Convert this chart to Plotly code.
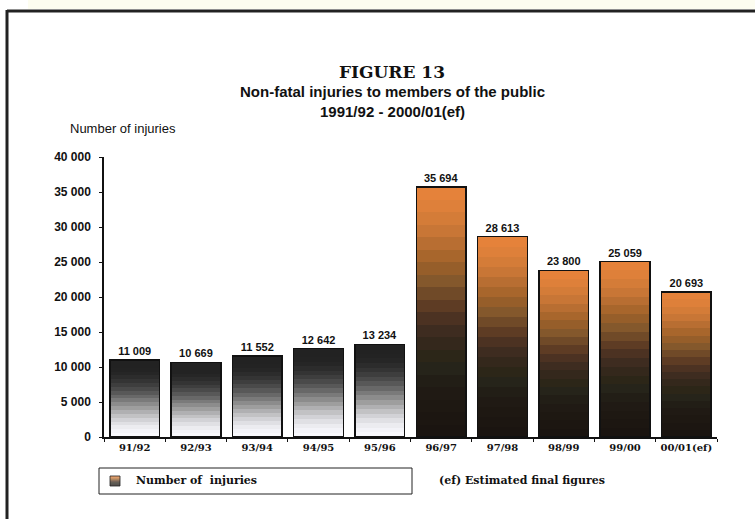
import plotly.graph_objects as go

# Financial years and non-fatal injury counts to members of the public
years = ["91/92", "92/93", "93/94", "94/95", "95/96",
         "96/97", "97/98", "98/99", "99/00", "00/01(ef)"]
injuries = [11009, 10669, 11552, 12642, 13234,
            35694, 28613, 23800, 25059, 20693]
y_ticks = [0, 5000, 10000, 15000, 20000, 25000, 30000, 35000, 40000]

# Stepped colour ramps, listed from the bottom of a bar to its top
grey_ramp = ["#f8f8fc", "#f3f3f8", "#ececf0", "#e0e0e4", "#d2d2d6", "#c2c2c4",
             "#b0b0b2", "#9e9e9e", "#8c8c8c", "#7a7a7a", "#686868", "#585858",
             "#4a4a4a", "#3e3e3e", "#343434", "#2c2c2c", "#262626", "#232323",
             "#222222", "#222222"]
orange_ramp = ["#1a1410", "#1c1611", "#1e1812", "#201a14", "#221e16", "#26241a",
               "#2c2618", "#34281c", "#3e2c20", "#4c3222", "#5e3c24", "#704a28",
               "#84582c", "#965e2a", "#a8662c", "#b86e32", "#c87636", "#d47c38",
               "#de803a", "#e5823a"]
n_steps = len(grey_ramp)
old_series = 5  # first five years drawn in grey

fig = go.Figure()

# Gradient fill: each bar is a stack of equal slices of its own value
for i in range(n_steps):
    colors = [grey_ramp[i] if k < old_series else orange_ramp[i]
              for k in range(len(years))]
    fig.add_trace(go.Bar(
        x=years, y=[v / n_steps for v in injuries],
        marker=dict(color=colors, line=dict(width=0)),
        showlegend=False, hoverinfo="skip",
    ))

# Outline and value labels, on an overlaid category axis
fig.add_trace(go.Bar(
    x=years, y=injuries, xaxis="x2",
    marker=dict(color="rgba(0,0,0,0)", line=dict(color="#111111", width=1.5)),
    texttemplate="%{y:,d}", textposition="outside",
    textfont=dict(family="Liberation Sans", size=11, color="#111111", weight="bold"),
    cliponaxis=False, showlegend=False, name="Number of injuries",
))

W, H = 755, 519
L, R, T, B = 104, 38, 157, 82
pw, ph = W - L - R, H - T - B


def px(x):
    return (x - L) / pw


def py(y):
    return (H - B - y) / ph


shapes = [
    # pale strip above the frame
    dict(type="rect", xref="paper", yref="paper", x0=px(28), x1=px(756),
         y0=py(0), y1=py(9), fillcolor="#fdfdf0", line=dict(width=0), layer="below"),
    # frame lines
    dict(type="line", xref="paper", yref="paper", x0=px(7), x1=px(756),
         y0=py(11), y1=py(11), line=dict(color="#222222", width=3)),
    dict(type="line", xref="paper", yref="paper", x0=px(7), x1=px(7),
         y0=py(10), y1=py(520), line=dict(color="#222222", width=3)),
    # legend box
    dict(type="rect", xref="paper", yref="paper", x0=px(99), x1=px(412),
         y0=py(468), y1=py(494), line=dict(color="#222222", width=1),
         fillcolor="white"),
]
# legend key swatch with the orange ramp
sw_top, sw_bot = 476, 486
for i in range(n_steps):
    y0 = sw_bot - (sw_bot - sw_top) * i / n_steps
    y1 = sw_bot - (sw_bot - sw_top) * (i + 1) / n_steps
    shapes.append(dict(type="rect", xref="paper", yref="paper",
                       x0=px(110), x1=px(120), y0=py(y0), y1=py(y1),
                       fillcolor=orange_ramp[i], line=dict(width=0)))
shapes.append(dict(type="rect", xref="paper", yref="paper",
                   x0=px(110), x1=px(120), y0=py(sw_bot), y1=py(sw_top),
                   line=dict(color="#222222", width=0.8)))

serif = "DejaVu Serif"
sans = "Liberation Sans"


def label(text, x, y, family, size, anchor="center"):
    return dict(text=text, x=px(x), y=py(y), xref="paper", yref="paper",
                xanchor=anchor, yanchor="middle", showarrow=False,
                font=dict(family=family, size=size, color="#111111"))


annotations = [
    label("<b>FIGURE 13</b>", 392, 72, serif, 17),
    label("<b>Non-fatal injuries to members of the public</b>", 392, 92, sans, 15),
    label("<b>1991/92 - 2000/01(ef)</b>", 392, 112, sans, 15),
    label("Number of injuries", 68, 129, sans, 13, "left"),
    label("<b>Number of  injuries</b>", 134, 481, serif, 11, "left"),
    label("<b>(ef) Estimated final figures</b>", 437, 481, serif, 11, "left"),
]

fig.update_layout(
    width=W, height=H,
    margin=dict(l=L, r=R, t=T, b=B),
    paper_bgcolor="white", plot_bgcolor="white",
    barmode="stack", bargap=0.19,
    separators=". ",
    showlegend=False,
    xaxis=dict(type="category", categoryorder="array", categoryarray=years,
               range=[-0.5, 9.5], tickson="boundaries", ticks="outside",
               ticklen=3, tickcolor="#111111", showline=True, linecolor="#111111",
               linewidth=1.5, showgrid=False, zeroline=False,
               tickfont=dict(family=serif, size=10, color="#111111", weight="bold")),
    xaxis2=dict(type="category", categoryorder="array", categoryarray=years,
                range=[-0.5, 9.5], overlaying="x", visible=False),
    yaxis=dict(range=[0, 40000], tickvals=y_ticks, tickformat=",d",
               ticks="outside", ticklen=3, tickcolor="#111111", showline=True,
               linecolor="#111111", linewidth=1.5, showgrid=False, zeroline=False,
               ticklabelstandoff=6,
               tickfont=dict(family=sans, size=12, color="#111111", weight="bold")),
    shapes=shapes, annotations=annotations,
)

fig.write_html("out.html")
